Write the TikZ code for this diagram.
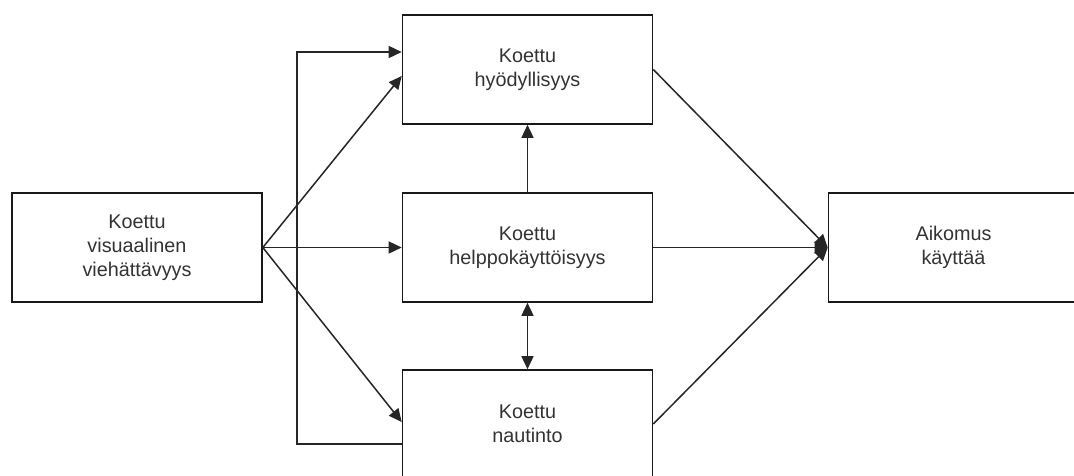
\documentclass[tikz,border=0pt]{standalone}
\usepackage{fontspec}
\setmainfont{Liberation Sans}
\usetikzlibrary{arrows.meta}
\begin{document}
\begin{tikzpicture}[x=1pt,y=-1pt,
  box/.style={draw=black!90, line width=1.6pt, fill=white, inner sep=0pt,
    minimum width=250pt, minimum height=109pt, align=center,
    text=black!80, font=\fontsize{19.8}{24}\selectfont},
  conn/.style={draw=black!85, line width=1.5pt},
  tip/.style={Triangle[length=13pt,width=12pt]},
  arr/.style={conn, -{Triangle[length=13pt,width=12pt]}},
  dblarr/.style={conn, {Triangle[length=13pt,width=12pt]}-{Triangle[length=13pt,width=12pt]}}]
  \clip (0,0) rectangle (1074,475);
  \fill[white] (0,0) rectangle (1074,475);

  % constructs
  \node[box] (vis) at (137,247.5) {Koettu\\visuaalinen\\viehättävyys};
  \node[box] (hyo) at (527.5,69.5) {Koettu\\hyödyllisyys};
  \node[box] (hel) at (527.5,247.5) {Koettu\\helppokäyttöisyys};
  \node[box, minimum height=108pt] (nau) at (527.5,424) {Koettu\\nautinto};
  \node[box] (aik) at (953.5,247.5) {Aikomus\\käyttää};

  % visual appeal to the three perceptions
  \draw[arr] (vis.east) -- ([yshift=-6.5pt]hyo.west);
  \draw[arr] (vis.east) -- (hel.west);
  \draw[arr] (vis.east) -- ([yshift=2pt]nau.west);

  % enjoyment to usefulness, routed along the left
  \coordinate (elbowtop) at (297,52);
  \draw[arr] ([yshift=-20pt]nau.west) -| (elbowtop) -- ([yshift=17.5pt]hyo.west);

  % links between the perceptions
  \draw[arr] (hel.north) -- (hyo.south);
  \draw[dblarr] (hel.south) -- (nau.north);

  % perceptions to intention
  \draw[arr] (hyo.east) -- (aik.west);
  \draw[arr] (hel.east) -- (aik.west);
  \draw[arr] (nau.east) -- (aik.west);
\end{tikzpicture}
\end{document}
